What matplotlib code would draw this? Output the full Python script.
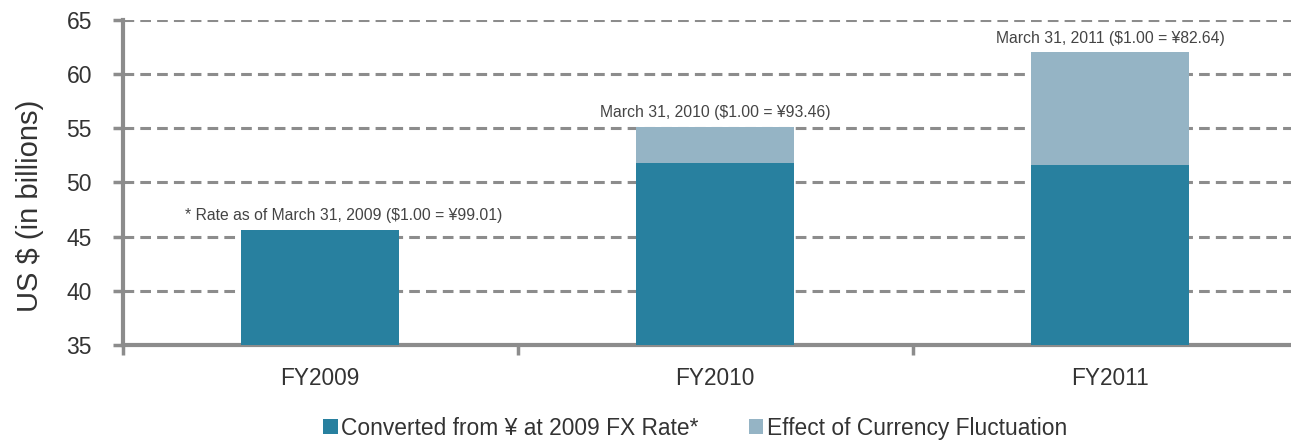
import matplotlib
matplotlib.use("Agg")
import matplotlib.pyplot as plt
from matplotlib.patches import Patch

categories = ["FY2009", "FY2010", "FY2011"]
base_values = [45.6, 51.8, 51.6]
totals = [45.6, 55.1, 62.0]
fx_effect = [t - b for t, b in zip(totals, base_values)]
annotations = ["* Rate as of March 31, 2009 ($1.00 = \u00a599.01)",
               "March 31, 2010 ($1.00 = \u00a593.46)",
               "March 31, 2011 ($1.00 = \u00a582.64)"]
legend_labels = ["Converted from \u00a5 at 2009 FX Rate*", "Effect of Currency Fluctuation"]
yticks = [35, 40, 45, 50, 55, 60, 65]

dark = "#28809F"
light = "#95B4C5"
gray = "#8C8C8C"
txt = "#333333"

plt.rcParams['font.family'] = ['Liberation Sans', 'DejaVu Sans']

fig = plt.figure(figsize=(12.91, 4.40), dpi=100)
W, H = 1291, 440
ax = fig.add_axes([122.5 / W, 1 - 345 / H, (1307.5 - 122.5) / W, (345 - 20) / H])

x = list(range(len(categories)))
ax.bar(x, base_values, width=0.4, color=dark, bottom=0, zorder=3)
ax.bar(x, fx_effect, width=0.4, color=light, bottom=base_values, zorder=3)

x_offsets = [17, 0, 0]
for xi, t, a, dx in zip(x, totals, annotations, x_offsets):
    ax.annotate(a, (xi, t), xytext=(dx, 5), textcoords="offset points",
                ha="center", va="bottom", fontsize=11.3, color="#444444")

ax.set_xlim(-0.5, 2.5)
ax.set_ylim(35, 65)
ax.set_yticks(yticks)
ax.set_xticks(x)
ax.set_xticklabels(categories, fontsize=16.3, color=txt)
ax.set_xticks([-0.5, 0.5, 1.5, 2.5], minor=True)
ax.tick_params(axis="x", which="major", length=0, pad=16)
ax.tick_params(axis="x", which="minor", length=7, width=2.5, color=gray, direction="out")
ax.tick_params(axis="y", length=7, width=2.5, color=gray, labelsize=16.5, labelcolor=txt, pad=15)
ax.yaxis.grid(True, linestyle=(0, (3.5, 2)), color=gray, linewidth=2.2, zorder=0)
ax.set_axisbelow(True)
for s in ["top", "right"]:
    ax.spines[s].set_visible(False)
for s in ["left", "bottom"]:
    ax.spines[s].set_color(gray)
    ax.spines[s].set_linewidth(3)
ax.set_ylabel("US $ (in billions)", fontsize=21, color=txt)
ax.yaxis.set_label_coords((44 - 122.5) / 1185, (345 - 206) / 325)

handles = [Patch(facecolor=dark, edgecolor="none"), Patch(facecolor=light, edgecolor="none")]
fig.legend(handles, legend_labels, loc="center", bbox_to_anchor=(695 / W, 1 - 428 / H),
           ncol=2, frameon=False, fontsize=16.4, handlelength=0.65, handleheight=0.65,
           handletextpad=0.15, columnspacing=2.2, labelcolor=txt)

fig.savefig("out.png", dpi=100)
